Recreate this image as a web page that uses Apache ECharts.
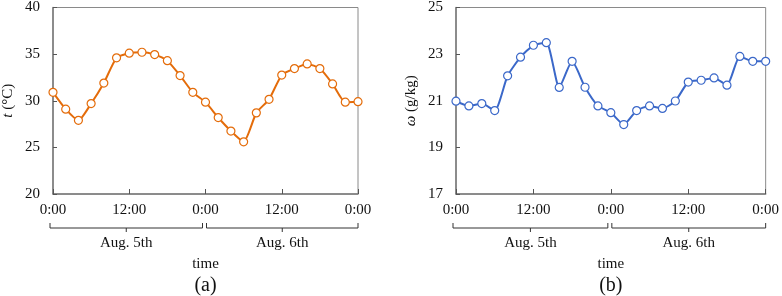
<!DOCTYPE html>
<html><head><meta charset="utf-8">
<script src="https://cdn.jsdelivr.net/npm/echarts@6/dist/echarts.min.js"></script>
<style>html,body{margin:0;padding:0;background:#fff}#c{width:782px;height:296px}</style>
</head><body><div id="c"></div>
<script>
const hours = [0,2,4,6,8,10,12,14,16,18,20,22,24,26,28,30,32,34,36,38,40,42,44,46,48];
const tempVals = [30.9,29.1,27.9,29.7,31.9,34.6,35.1,35.2,34.95,34.3,32.7,30.9,29.85,28.2,26.75,25.6,28.7,30.15,32.75,33.45,33.95,33.45,31.8,29.85,29.9];
const humVals = [20.98,20.78,20.88,20.58,22.07,22.87,23.38,23.49,21.57,22.69,21.58,20.78,20.49,19.98,20.58,20.78,20.67,20.99,21.8,21.88,21.98,21.67,22.9,22.69,22.69];
const tempTicks = {min:20,max:40,interval:5};
const humTicks = {min:17,max:25,interval:2};
const dayLabels = ['Aug. 5th','Aug. 6th'];
const panelLabels = ['(a)','(b)'];

const FONT = '"Liberation Serif","Times New Roman",serif';
const chart = echarts.init(document.getElementById('c'), null, {renderer:'canvas'});
const orange = '#E46C0A', blue = '#3B68C9';

function xAx(gi){
  return {gridIndex:gi,type:'value',min:0,max:48,interval:12,
    axisLine:{lineStyle:{color:'#7a7a7a',width:1.5}},
    axisTick:{inside:true,length:5,lineStyle:{color:'#555'}},
    splitLine:{show:false},
    axisLabel:{margin:9,color:'#111',fontFamily:FONT,fontSize:15,formatter:v=>(v%24===0?'0:00':'12:00')},
    name:'time',nameLocation:'middle',nameGap:63,nameTextStyle:{color:'#111',fontFamily:FONT,fontSize:15}};
}
function yAx(gi,t,nameRich){
  return {gridIndex:gi,type:'value',min:t.min,max:t.max,interval:t.interval,
    axisLine:{show:true,lineStyle:{color:'#7a7a7a',width:1.5}},
    axisTick:{show:true,inside:true,length:4,lineStyle:{color:'#555'}},
    splitLine:{show:false},
    axisLabel:{margin:13,color:'#111',fontFamily:FONT,fontSize:15},
    name:nameRich,nameLocation:'middle',nameGap:37,
    nameTextStyle:{color:'#111',fontFamily:FONT,fontSize:15,
      rich:{i:{fontStyle:'italic',fontFamily:FONT,fontSize:15,color:'#111'},n:{fontFamily:FONT,fontSize:15,color:'#111'}}}};
}
function ser(gi,vals,color){
  return {type:'line',xAxisIndex:gi,yAxisIndex:gi,data:hours.map((h,i)=>[h,vals[i]]),
    smooth:0.2,symbol:'circle',symbolSize:8,
    lineStyle:{color:color,width:2},
    itemStyle:{color:'#fff',borderColor:color,borderWidth:1.2},z:3};
}
const option = {
  animation:false,
  grid:[
    {left:48,right:424,top:5,bottom:102,show:true,borderColor:'#8a8a8a',borderWidth:1},
    {left:456,right:16,top:5,bottom:102,show:true,borderColor:'#8a8a8a',borderWidth:1}
  ],
  xAxis:[xAx(0),xAx(1)],
  yAxis:[yAx(0,tempTicks,'{i|t} {n|(°C)}'),yAx(1,humTicks,'{i|ω} {n|(g/kg)}')],
  series:[ser(0,tempVals,orange),ser(1,humVals,blue)]
};
chart.setOption(option);

const g = [];
for (let gi=0; gi<2; gi++){
  const px = h => chart.convertToPixel({xAxisIndex:gi}, h);
  const y0 = chart.convertToPixel({yAxisIndex:gi}, gi===0?tempTicks.min:humTicks.min);
  const by = y0 + 34;
  const segs = [[px(0)-3, px(24)-3],[px(24)+1, px(48)]];
  segs.forEach((s,k)=>{
    const mid=(s[0]+s[1])/2;
    g.push({type:'polyline',shape:{points:[[s[0],by-5],[s[0],by],[s[1],by],[s[1],by-5]]},style:{stroke:'#333',lineWidth:1,fill:null}});
    g.push({type:'line',shape:{x1:mid,y1:by,x2:mid,y2:by+4},style:{stroke:'#333',lineWidth:1}});
    g.push({type:'text',x:mid,y:by+15,style:{text:dayLabels[k],font:'15px '+FONT,fill:'#111',align:'center',verticalAlign:'middle'}});
  });
  g.push({type:'text',x:(px(0)+px(48))/2,y:y0+92,style:{text:panelLabels[gi],font:'20px '+FONT,fill:'#111',align:'center',verticalAlign:'middle'}});
}
chart.setOption({graphic:g});
</script></body></html>
